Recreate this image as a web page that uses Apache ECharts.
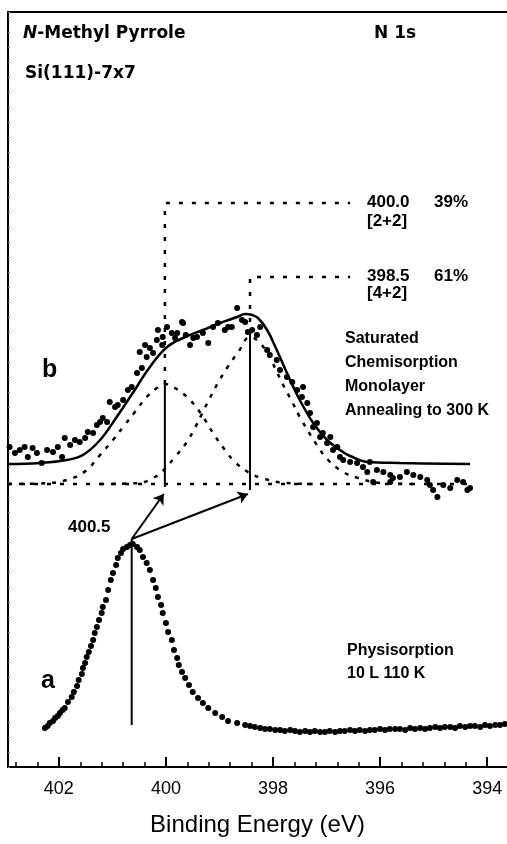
<!DOCTYPE html>
<html>
<head>
<meta charset="utf-8">
<title>N 1s XPS</title>
<script src="https://cdn.jsdelivr.net/npm/echarts@6/dist/echarts.min.js"></script>
<style>
  html, body { margin: 0; padding: 0; background: #fff; }
  #chart { width: 507px; height: 844px; }
</style>
</head>
<body>
<div id="chart"></div>
<script>
// binding energy (eV) / intensity (arb. units)

// curve a: physisorption, 10 L at 110 K
var physData = [
  [402.26,39],[402.21,41],[402.17,44],[402.11,46],[402.07,49],[402.02,51],[401.98,54],[401.93,57],
  [401.89,59],[401.83,65],[401.76,70],[401.72,75],[401.66,81],[401.63,87],[401.57,93],[401.55,99],
  [401.51,104],[401.48,110],[401.44,115],[401.40,121],[401.36,127],[401.33,134],[401.29,140],[401.25,147],
  [401.20,154],[401.18,160],[401.12,167],[401.08,177],[401.03,187],[400.99,194],[400.93,202],[400.90,209],
  [400.84,214],[400.80,218],[400.73,220],[400.67,222],[400.62,223],[400.54,220],[400.49,217],[400.43,210],
  [400.36,204],[400.30,197],[400.24,187],[400.19,179],[400.15,170],[400.09,162],[400.06,154],[400.00,144],
  [399.96,135],[399.89,127],[399.85,117],[399.79,109],[399.76,102],[399.70,95],[399.64,89],[399.57,82],
  [399.50,75],[399.40,69],[399.31,64],[399.21,59],[399.08,54],[398.95,50],[398.84,46],[398.67,44],
  [398.52,42],[398.43,41],[398.34,40],[398.24,39],[398.15,38],[398.06,38],[397.96,37],[397.87,37],
  [397.78,36],[397.68,37],[397.59,36],[397.50,35],[397.40,36],[397.31,35],[397.22,36],[397.12,35],
  [397.03,35],[396.94,36],[396.84,35],[396.75,36],[396.66,36],[396.56,37],[396.47,36],[396.38,37],
  [396.28,36],[396.19,37],[396.10,37],[396.00,38],[395.91,37],[395.82,38],[395.72,38],[395.63,38],
  [395.53,37],[395.44,39],[395.35,38],[395.25,39],[395.16,38],[395.07,39],[394.97,40],[394.88,39],
  [394.79,40],[394.69,40],[394.60,39],[394.51,41],[394.41,40],[394.32,41],[394.23,41],[394.13,40],
  [394.04,42],[393.95,41],[393.85,42],[393.76,42],[393.67,43]
];

// curve b: saturated chemisorption monolayer, annealed to 300 K (measured points)
var chemData = [
  [402.92,320],[402.82,314],[402.73,317],[402.64,320],[402.58,310],[402.49,319],[402.41,314],[402.32,304],
  [402.22,317],[402.11,315],[402.02,320],[401.94,310],[401.89,329],[401.79,322],[401.70,327],[401.61,325],
  [401.51,329],[401.46,335],[401.36,334],[401.29,342],[401.23,345],[401.18,349],[401.10,345],[401.05,365],
  [400.95,360],[400.90,362],[400.80,367],[400.71,377],[400.64,380],[400.54,394],[400.45,399],[400.49,415],
  [400.39,422],[400.36,410],[400.30,419],[400.24,414],[400.17,427],[400.15,437],[400.07,422],[400.06,430],
  [399.98,440],[399.89,434],[399.83,429],[399.79,434],[399.70,445],[399.68,444],[399.63,432],[399.55,422],
  [399.49,429],[399.42,430],[399.31,434],[399.21,424],[399.12,440],[399.03,444],[398.90,437],[398.84,440],
  [398.77,440],[398.67,459],[398.58,447],[398.52,445],[398.47,435],[398.39,437],[398.30,432],[398.24,440],
  [398.11,417],[398.06,412],[397.93,407],[397.87,397],[397.74,390],[397.64,385],[397.55,377],[397.46,370],
  [397.44,380],[397.36,364],[397.31,354],[397.25,340],[397.18,344],[397.12,330],[397.07,334],[396.99,324],
  [396.93,330],[396.88,317],[396.80,320],[396.75,310],[396.69,307],[396.56,305],[396.43,304],[396.32,300],
  [396.24,295],[396.19,305],[396.13,285],[396.06,297],[395.94,295],[395.81,292],[395.81,285],[395.76,289],
  [395.63,290],[395.50,295],[395.38,292],[395.25,290],[395.12,287],[395.07,282],[395.01,277],[394.93,270],
  [394.82,282],[394.69,279],[394.56,287],[394.45,285],[394.37,277],[394.32,279]
];

// curve b: total fit
var fitData = [
  [402.95,303],[402.36,304],[401.85,307],[401.55,312],[401.23,327],[400.92,350],[400.62,374],[400.30,400],
  [399.98,420],[399.64,430],[399.31,437],[398.99,444],[398.67,450],[398.52,453],[398.39,452],[398.28,449],
  [398.11,437],[397.93,417],[397.74,394],[397.50,367],[397.25,344],[396.99,327],[396.75,317],[396.56,311],
  [396.24,305],[395.63,304],[394.32,303]
];

// fit components: 400.0 eV [2+2] and 398.5 eV [4+2]
var comp1Data = [
  [402.95,283],[402.17,284],[401.74,289],[401.48,297],[401.23,312],[400.99,327],[400.77,342],[400.58,355],
  [400.36,370],[400.17,379],[400.02,383],[399.83,379],[399.55,367],[399.33,352],[399.12,334],[398.90,317],
  [398.71,305],[398.47,295],[398.21,289],[397.78,284],[397.12,283]
];
var comp2Data = [
  [401.23,283],[400.49,284],[400.24,289],[400.06,296],[399.83,310],[399.61,325],[399.46,339],[399.33,353],
  [399.18,369],[399.03,384],[398.86,399],[398.65,415],[398.43,430],[398.21,422],[398.02,405],[397.81,382],
  [397.64,365],[397.50,350],[397.18,322],[396.97,307],[396.69,295],[396.41,289],[396.00,284],[395.25,283]
];
var baseData = [[402.95,283],[394.32,283]];

// peak markers
var peakA = [[400.64,42],[400.64,228]];
var peak1 = [[400.02,280],[400.02,383]];
var peak2 = [[398.43,277],[398.43,432]];
var lead1 = [[400.02,383],[400.02,564],[396.56,564]];
var lead2 = [[398.43,432],[398.43,490],[396.56,490]];
var arrows = [
  [[400.64,228],[400.04,273]],
  [[400.64,228],[398.47,273]]
];

// axis ticks
var majorTicks = [402, 400, 398, 396, 394];
var minorTicks = [402.8,402.4,401.6,401.2,400.8,400.4,399.6,399.2,398.8,398.4,397.6,397.2,396.8,396.4,395.6,395.2,394.8,394.4,393.6];

var xMin = 393.63, xMax = 402.95;

var myChart = echarts.init(document.getElementById('chart'));

var lab = function (text, x, y, size, family) {
  return {
    type: 'text', left: x, top: y - size / 2 - 1,
    style: { text: text, fill: '#000', font: 'bold ' + size + 'px ' + (family || '"Liberation Sans", Arial, sans-serif') }
  };
};

var dash = [4, 7];

var option = {
  animation: false,
  grid: { left: 8, right: 0, top: 12, bottom: 77 },
  xAxis: [
    {
      type: 'value', min: xMin, max: xMax, inverse: true,
      position: 'bottom',
      name: 'Binding Energy (eV)', nameLocation: 'middle', nameGap: 46,
      nameTextStyle: { fontSize: 24, color: '#000', fontFamily: '"Liberation Sans", Arial, sans-serif' },
      axisLine: { lineStyle: { color: '#000', width: 2 } },
      axisTick: { inside: true, length: 10, lineStyle: { color: '#000', width: 2 }, customValues: majorTicks },
      axisLabel: { customValues: majorTicks, margin: 13, fontSize: 18, color: '#000', fontFamily: '"Liberation Sans", Arial, sans-serif' },
      splitLine: { show: false }
    },
    {
      // minor ticks
      type: 'value', min: xMin, max: xMax, inverse: true,
      position: 'bottom', offset: 0,
      axisLine: { show: true, lineStyle: { color: '#000', width: 2 } },
      axisTick: { show: true, inside: true, length: 5, lineStyle: { color: '#000', width: 1.5 }, customValues: minorTicks },
      axisLabel: { show: false },
      splitLine: { show: false }
    },
    {
      // top frame line
      type: 'value', min: xMin, max: xMax, inverse: true,
      position: 'top',
      axisLine: { lineStyle: { color: '#000', width: 2 } },
      axisTick: { show: false }, axisLabel: { show: false }, splitLine: { show: false }
    }
  ],
  yAxis: {
    type: 'value', min: 0, max: 755, interval: 15,
    axisLine: { show: true, lineStyle: { color: '#000', width: 2 } },
    axisTick: { show: true, inside: true, length: 2, lineStyle: { color: '#777', width: 1 } },
    axisLabel: { show: false },
    splitLine: { show: false }
  },
  series: [
    {
      name: 'a', type: 'scatter', data: physData,
      symbol: 'circle', symbolSize: 6, itemStyle: { color: '#000', opacity: 1 }
    },
    {
      name: 'b', type: 'scatter', data: chemData,
      symbol: 'circle', symbolSize: 6, itemStyle: { color: '#000', opacity: 1 }
    },
    {
      name: 'fit', type: 'line', data: fitData, smooth: 0.4, showSymbol: false,
      lineStyle: { color: '#000', width: 2.5 }
    },
    {
      name: 'comp1', type: 'line', data: comp1Data, smooth: 0.4, showSymbol: false,
      lineStyle: { color: '#000', width: 2.5, type: dash }
    },
    {
      name: 'comp2', type: 'line', data: comp2Data, smooth: 0.4, showSymbol: false,
      lineStyle: { color: '#000', width: 2.5, type: dash }
    },
    {
      name: 'baseline', type: 'line', data: baseData, showSymbol: false,
      lineStyle: { color: '#000', width: 2.5, type: [4, 9] }
    },
    {
      name: 'lead1', type: 'line', data: lead1, showSymbol: false,
      lineStyle: { color: '#000', width: 2.5, type: [4, 9] }
    },
    {
      name: 'lead2', type: 'line', data: lead2, showSymbol: false,
      lineStyle: { color: '#000', width: 2.5, type: [4, 9] }
    },
    { type: 'line', data: peakA, showSymbol: false, lineStyle: { color: '#000', width: 2 } },
    { type: 'line', data: peak1, showSymbol: false, lineStyle: { color: '#000', width: 2 } },
    { type: 'line', data: peak2, showSymbol: false, lineStyle: { color: '#000', width: 2 } },
    {
      type: 'lines', coordinateSystem: 'cartesian2d',
      symbol: ['none', 'arrow'], symbolSize: 10,
      lineStyle: { color: '#000', width: 2, opacity: 1, curveness: 0 },
      data: arrows.map(function (c) { return { coords: c }; })
    }
  ],
  graphic: [
    {
      type: 'text', left: 23, top: 25,
      style: {
        text: '{i|N}{n|-Methyl Pyrrole}',
        rich: {
          i: { font: 'italic bold 17px "DejaVu Sans", sans-serif', fill: '#000' },
          n: { font: 'bold 17px "DejaVu Sans", sans-serif', fill: '#000' }
        }
      }
    },
    lab('N 1s', 374, 35, 17, '"DejaVu Sans", sans-serif'),
    lab('Si(111)-7x7', 25, 75, 17, '"DejaVu Sans", sans-serif'),
    lab('400.0', 367, 203, 17),
    lab('39%', 434, 203, 17),
    lab('[2+2]', 367, 222, 17),
    lab('398.5', 367, 277, 17),
    lab('61%', 434, 277, 17),
    lab('[4+2]', 367, 294, 17),
    lab('b', 42, 371, 25),
    lab('Saturated', 345, 340, 16),
    lab('Chemisorption', 345, 364, 16),
    lab('Monolayer', 345, 388, 16),
    lab('Annealing to 300 K', 345, 412, 16),
    lab('400.5', 68, 528, 17),
    lab('a', 41, 682, 25),
    lab('Physisorption', 347, 652, 16),
    lab('10 L 110 K', 347, 675, 16)
  ]
};

myChart.setOption(option);
</script>
</body>
</html>
